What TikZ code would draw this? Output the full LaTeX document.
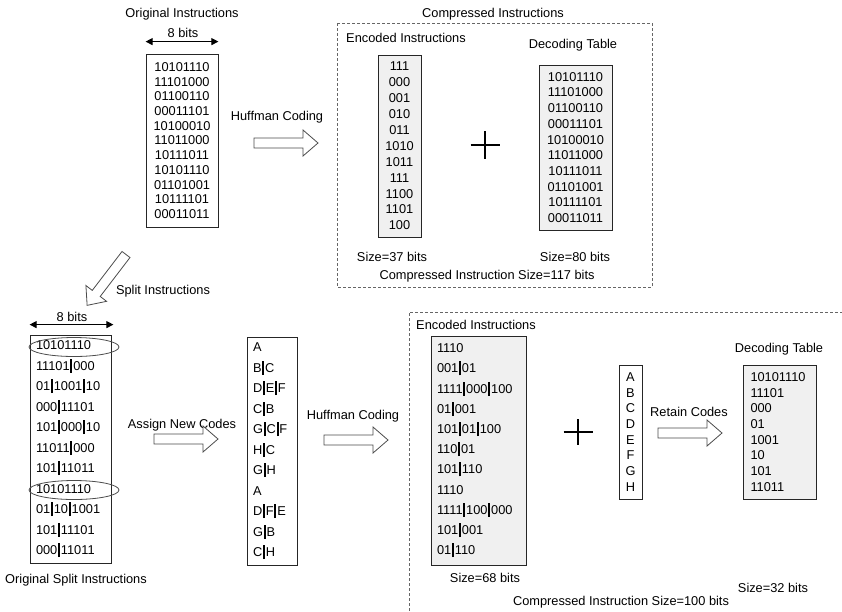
\documentclass[tikz,border=0pt]{standalone}
\usepackage{fontspec}
\setmainfont{Liberation Sans}
\usetikzlibrary{arrows.meta,shapes.geometric}

% thick cut mark between the pieces of a split instruction
\newcommand{\splitbar}{\hspace{0.8pt}\rule[-2.5pt]{2pt}{14pt}\hspace{0.8pt}}

\tikzset{pics/fatarrow/.style={code={
  \draw[fill=white,draw=black!70,line width=0.8pt]
    (0,-5)--(49,-5)--(49,-13)--(64,0)--(49,13)--(49,5)--(0,5)--cycle;}}}

\begin{document}
\begin{tikzpicture}[x=1pt,y=-1pt,inner sep=0pt,
  every node/.style={font=\fontsize{12.8}{15}\selectfont}]
  \useasboundingbox (0,0) rectangle (842,611);
  \tikzstyle{b}=[draw=black!85,line width=0.8pt,align=center]
  \tikzstyle{g}=[b,fill=black!6]
  \tikzstyle{dim}=[{Triangle[length=7pt,width=7pt]}-{Triangle[length=7pt,width=7pt]},line width=1pt]
  \tikzstyle{grp}=[draw=black!60,line width=0.8pt,dash pattern=on 3pt off 2pt]
  \tikzstyle{plus}=[line width=1.4pt]
  % original instructions
  \node(origT)at(182,14){Original Instructions};
  \node(origW)at(183,33){8 bits};
  \node[b,minimum width=72pt,minimum height=173pt,font=\fontsize{12.8}{14.7}\selectfont](orig)at(182,140.5){10101110\\11101000\\01100110\\00011101\\10100010\\11011000\\10111011\\10101110\\01101001\\10111101\\00011011};
  \draw[dim]([yshift=12pt]orig.north west)--([yshift=12pt]orig.north east);
  \node(huffT)at(277,117){Huffman Coding};
  \pic(huffA)at(254,143){fatarrow};
  % compressed, whole instructions
  \draw[grp](337,23)rectangle(652,287);
  \node(compT)at(493,14){Compressed Instructions};
  \node(encT)at(406,38){Encoded Instructions};
  \node[g,minimum width=43pt,minimum height=182pt,font=\fontsize{12.8}{15.9}\selectfont](enc)at(399.5,146){111\\000\\001\\010\\011\\1010\\1011\\111\\1100\\1101\\100};
  \coordinate(plusA)at(485,145);
  \draw[plus]([xshift=-14.5pt]plusA)--([xshift=14.5pt]plusA)([yshift=14pt]plusA)--([yshift=-14pt]plusA);
  \node(decT)at(573,45){Decoding Table};
  \node[g,minimum width=73pt,minimum height=165pt,font=\fontsize{12.8}{15.7}\selectfont](dec)at(575.5,147.5){10101110\\11101000\\01100110\\00011101\\10100010\\11011000\\10111011\\01101001\\10111101\\00011011};
  \node(encS)at(392,257){Size=37 bits};
  \node(decS)at(575,257){Size=80 bits};
  \node(compS)at(487,276){Compressed Instruction Size=117 bits};
  % splitting
  \pic[rotate=232.6](splitA)at(126,254.5){fatarrow};
  \node(splitT)at(163,291){Split Instructions};
  \node(splW)at(72,317){8 bits};
  \node[b,align=left,text width=69pt,inner xsep=6pt,minimum height=228pt,font=\fontsize{12.8}{20.5}\selectfont](spl)at(70.5,449){10101110\\11101\splitbar000\\01\splitbar1001\splitbar10\\000\splitbar11101\\101\splitbar000\splitbar10\\11011\splitbar000\\101\splitbar11011\\10101110\\01\splitbar10\splitbar1001\\101\splitbar11101\\000\splitbar11011};
  \draw[dim]([yshift=10pt]spl.north west)--([xshift=2pt,yshift=10pt]spl.north east);
  \node[ellipse,draw=black!70,line width=0.8pt,minimum width=90pt,minimum height=19pt](same1)at(74,347){};
  \node[ellipse,draw=black!70,line width=0.8pt,minimum width=90pt,minimum height=19pt](same2)at(74,490){};
  \node(splT)at(76,580){Original Split Instructions};
  \node(assT)at(182,425){Assign New Codes};
  \pic(assA)at(154,439){fatarrow};
  \node[b,align=left,text width=38pt,inner xsep=6pt,minimum height=228pt,font=\fontsize{12.8}{20.5}\selectfont](sym)at(272,451){A\\B\splitbar C\\D\splitbar E\splitbar F\\C\splitbar B\\G\splitbar C\splitbar F\\H\splitbar C\\G\splitbar H\\A\\D\splitbar F\splitbar E\\G\splitbar B\\C\splitbar H};
  \node(huff2T)at(353,416){Huffman Coding};
  \pic(huff2A)at(324,440){fatarrow};
  % compressed, split instructions
  \draw[grp](409,611)--(409,312)--(842,312);
  \node(enc2T)at(476,325){Encoded Instructions};
  \node[g,align=left,text width=83pt,inner xsep=6pt,minimum height=229pt,font=\fontsize{12.8}{20.2}\selectfont](enc2)at(478.5,450.5){1110\\001\splitbar01\\1111\splitbar000\splitbar100\\01\splitbar001\\101\splitbar01\splitbar100\\110\splitbar01\\101\splitbar110\\1110\\1111\splitbar100\splitbar000\\101\splitbar001\\01\splitbar110};
  \node(enc2S)at(485,578){Size=68 bits};
  \coordinate(plusB)at(578,432);
  \draw[plus]([xshift=-14.5pt]plusB)--([xshift=14.5pt]plusB)([yshift=13pt]plusB)--([yshift=-13pt]plusB);
  \node[b,minimum width=23pt,minimum height=134pt,font=\fontsize{12.8}{15.7}\selectfont](keys)at(630.5,432){A\\B\\C\\D\\E\\F\\G\\H};
  \node(retT)at(689,412){Retain Codes};
  \pic(retA)at(658,433){fatarrow};
  \node(dec2T)at(779,349){Decoding Table};
  \node[g,align=left,text width=58pt,inner xsep=7.5pt,minimum height=134pt,font=\fontsize{12.8}{15.7}\selectfont](dec2)at(779.5,432){10101110\\11101\\000\\01\\1001\\10\\101\\11011};
  \node(dec2S)at(773,588){Size=32 bits};
  \node(comp2S)at(621,602){Compressed Instruction Size=100 bits};
\end{tikzpicture}
\end{document}
